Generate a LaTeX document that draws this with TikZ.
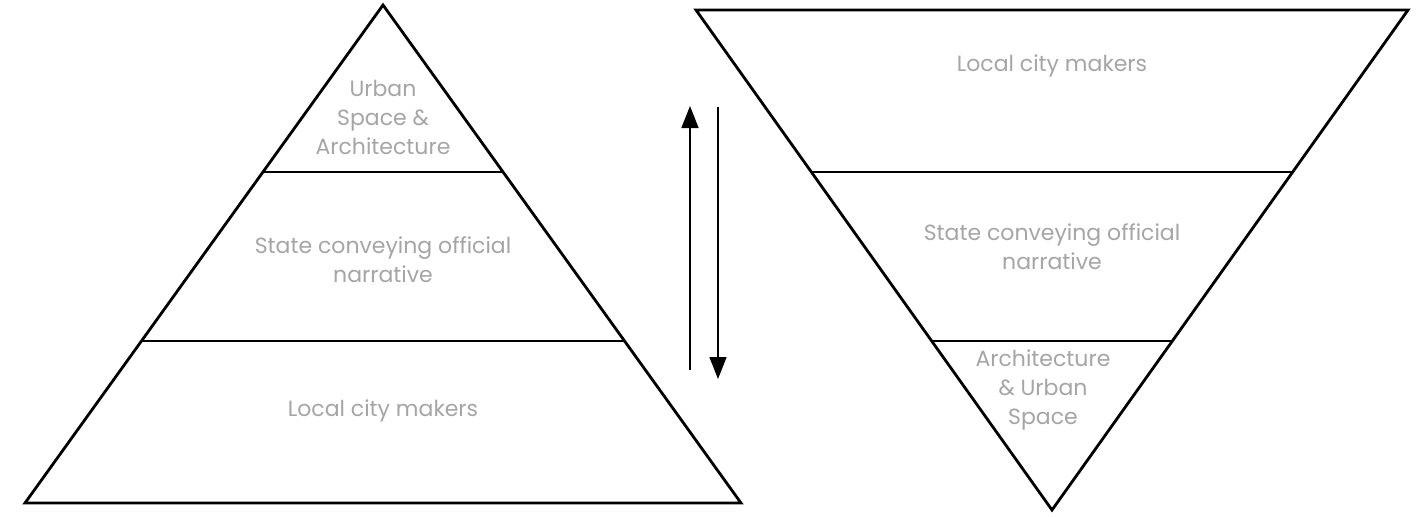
\documentclass[tikz,border=0pt]{standalone}
\usepackage{fontspec}
\setmainfont{Poppins}
\usetikzlibrary{arrows.meta}
\definecolor{labelgray}{RGB}{165,165,165}
\tikzset{
  tier/.style={line width=1.4pt, line join=miter},
  tiertext/.style={text=labelgray, align=center, font=\fontsize{11}{14.5}\selectfont, inner sep=0pt},
  flow/.style={line width=0.8pt, -{Triangle[length=11pt,width=8.5pt]}}
}
\begin{document}
\begin{tikzpicture}[x=0.5pt,y=-0.5pt]
    \useasboundingbox (0,0) rectangle (1423,516);
    % pyramid
    \coordinate (pa) at (383,5);
    \coordinate (pl) at (25,503);
    \coordinate (pr) at (741,503);
    \coordinate (p1l) at (263,172);
    \coordinate (p1r) at (503,172);
    \coordinate (p2l) at (141.5,341);
    \coordinate (p2r) at (624.5,341);
    \draw[tier] (pa) -- (pr) -- (pl) -- cycle;
    \draw[tier] (p1l) -- (p1r);
    \draw[tier] (p2l) -- (p2r);
    \node[tiertext] (ptop) at (383,117) {Urban\\Space \&\\Architecture};
    \node[tiertext] (pmid) at (383,260) {State conveying official\\narrative};
    \node[tiertext] (pbot) at (383,411) {Local city makers};
    % inverted pyramid
    \coordinate (ia) at (1052,510);
    \coordinate (il) at (696,10);
    \coordinate (ir) at (1408,10);
    \coordinate (i1l) at (811,172);
    \coordinate (i1r) at (1293,172);
    \coordinate (i2l) at (931.5,341);
    \coordinate (i2r) at (1172.5,341);
    \draw[tier] (il) -- (ir) -- (ia) -- cycle;
    \draw[tier] (i1l) -- (i1r);
    \draw[tier] (i2l) -- (i2r);
    \node[tiertext] (itop) at (1052,66) {Local city makers};
    \node[tiertext] (imid) at (1052,247) {State conveying official\\narrative};
    \node[tiertext] (ibot) at (1043,390) {Architecture\\\& Urban\\Space};
    % arrows
    \coordinate (upfrom) at (690,370);
    \coordinate (upto) at (690,106);
    \coordinate (downfrom) at (718,107);
    \coordinate (downto) at (718,379);
    \draw[flow] (upfrom) -- (upto);
    \draw[flow] (downfrom) -- (downto);
\end{tikzpicture}
\end{document}
